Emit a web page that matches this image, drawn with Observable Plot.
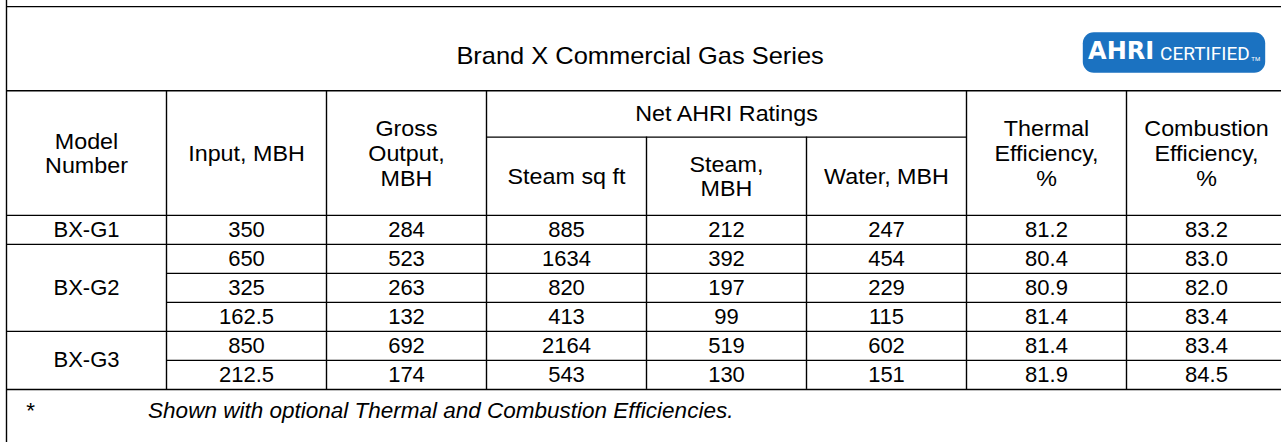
<!DOCTYPE html>
<html><head><meta charset="utf-8">
<script src="https://cdn.jsdelivr.net/npm/d3@7"></script>
<script src="https://cdn.jsdelivr.net/npm/@observablehq/plot@0.6"></script>
<style>
html,body{margin:0;padding:0;background:#fff;overflow:hidden;}
#chart svg{display:block;}
</style></head><body><div id="chart"></div>
<script>
// ---------- data ----------
const title = "Brand X Commercial Gas Series";
const groupHeader = "Net AHRI Ratings";
const headers = ["Model\nNumber", "Input, MBH", "Gross\nOutput,\nMBH", "Steam sq ft", "Steam,\nMBH", "Water, MBH", "Thermal\nEfficiency,\n%", "Combustion\nEfficiency,\n%"];
const models = ["BX-G1", "BX-G2", "BX-G3"];
const modelRows = [1, 3, 2];
const inputMBH = ["350", "650", "325", "162.5", "850", "212.5"];
const grossOutput = ["284", "523", "263", "132", "692", "174"];
const steamSqFt = ["885", "1634", "820", "413", "2164", "543"];
const steamMBH = ["212", "392", "197", "99", "519", "130"];
const waterMBH = ["247", "454", "229", "115", "602", "151"];
const thermalEff = ["81.2", "80.4", "80.9", "81.4", "81.4", "81.9"];
const combustionEff = ["83.2", "83.0", "82.0", "83.4", "83.4", "84.5"];
const footnoteMark = "*";
const footnote = "Shown with optional Thermal and Combustion Efficiencies.";
const badgeMain = "AHRI";
const badgeSub = "CERTIFIED";
const badgeTm = "TM";

// ---------- layout (in column / row units) ----------
const nCols = 8;
const nRows = inputMBH.length;
const yTop = -7.41, yBottom = 7.83;
const titleTop = -7.2, headTop = -4.3, subTop = -2.7;
const groupCols = [3, 6];
const font = "'Liberation Sans', Arial, sans-serif";
const fsHead = 22, fsData = 22, fsTitle = 24, fsFoot = 22.5;
const stretch = 1.06;

// ---------- derived tables ----------
const valueCols = [inputMBH, grossOutput, steamSqFt, steamMBH, waterMBH, thermalEff, combustionEff];
const cells = [];
valueCols.forEach((col, c) => col.forEach((v, r) => cells.push({col: c + 1, row: r, text: v})));
const modelCells = [];
const groupEdges = [0];
let acc = 0;
models.forEach((m, i) => { modelCells.push({col: 0, row: acc + modelRows[i] / 2 - 0.5, text: m}); acc += modelRows[i]; groupEdges.push(acc); });
const headerCells = headers.map((h, i) => ({col: i, text: h, sub: i >= groupCols[0] && i < groupCols[1]}));

const hLines = [
  {x1: 0, x2: nCols, y: titleTop},
  {x1: 0, x2: nCols, y: headTop},
  {x1: groupCols[0], x2: groupCols[1], y: subTop}
];
for (let r = 0; r <= nRows; r++) hLines.push({x1: groupEdges.includes(r) ? 0 : 1, x2: nCols, y: r});
const vLines = [{x: 0, y1: yTop, y2: yBottom}];
for (let c = 1; c < nCols; c++) vLines.push({x: c, y1: (c > groupCols[0] && c < groupCols[1]) ? subTop : headTop, y2: nRows});

const badgeBox = {x1: 6.73, x2: 7.87, y1: -6.3, y2: -4.9};

const chart = Plot.plot({
  width: 1281, height: 442,
  margin: 0,
  x: {domain: [0, nCols], range: [6, 1286], axis: null},
  y: {domain: [yTop, yBottom], range: [0, 442], axis: null},
  style: {fontFamily: font, background: "#fff", color: "#000"},
  marks: [
    Plot.ruleY(hLines, {y: "y", x1: "x1", x2: "x2", stroke: "#000", strokeWidth: 1.4}),
    Plot.ruleX(vLines, {x: "x", y1: "y1", y2: "y2", stroke: "#000", strokeWidth: 1.4}),
    Plot.text([title], {x: 3.96, y: (titleTop + headTop) / 2 + 0.25, text: d => d, fontSize: fsTitle, fill: "#000"}),
    Plot.text(headerCells, {x: d => d.col + 0.5, y: d => d.sub ? subTop / 2 : headTop / 2, text: "text", fontSize: fsHead, lineHeight: 1.12, fill: "#000"}),
    Plot.text([groupHeader], {x: (groupCols[0] + groupCols[1]) / 2, y: (headTop + subTop) / 2, text: d => d, fontSize: fsHead, fill: "#000"}),
    Plot.text(modelCells, {x: d => d.col + 0.5, y: d => d.row + 0.5, text: "text", fontSize: fsData, fill: "#000"}),
    Plot.text(cells, {x: d => d.col + 0.5, y: d => d.row + 0.5, text: "text", fontSize: fsData, fill: "#000"}),
    Plot.text([footnoteMark], {x: 0.15, y: nRows + 0.72, text: d => d, fontSize: fsFoot, fill: "#000"}),
    Plot.text([footnote], {x: 0.885, y: nRows + 0.72, text: d => d, fontSize: fsFoot, fontStyle: "italic", textAnchor: "start", fill: "#000"}),
    Plot.rect([badgeBox], {x1: "x1", x2: "x2", y1: "y1", y2: "y2", fill: "#1b72c1", rx: 11}),
    Plot.text([badgeMain], {x: badgeBox.x1 + 0.03, y: (badgeBox.y1 + badgeBox.y2) / 2 - 0.05, text: d => d, textAnchor: "start", fontSize: 24, fontWeight: 900, fontFamily: "'DejaVu Sans', sans-serif", fill: "#fff"}),
    Plot.text([badgeSub], {x: badgeBox.x1 + 0.48, y: (badgeBox.y1 + badgeBox.y2) / 2 + 0.03, text: d => d, textAnchor: "start", fontSize: 19, fontFamily: "Roboto, sans-serif", fill: "#fff"}),
    Plot.text([badgeTm], {x: badgeBox.x2 - 0.09, y: (badgeBox.y1 + badgeBox.y2) / 2 + 0.22, text: d => d, textAnchor: "start", fontSize: 6, fontFamily: "Roboto, sans-serif", fill: "#fff"})
  ]
});
// slight horizontal stretch of the title and header labels, as in the source
const textGroups = chart.querySelectorAll('g[aria-label="text"]');
[0, 1, 2].forEach(k => {
  d3.select(textGroups[k]).selectAll("text").attr("transform", function () {
    return this.getAttribute("transform") + ` scale(${stretch},1)`;
  });
});
document.getElementById("chart").append(chart);
</script></body></html>
